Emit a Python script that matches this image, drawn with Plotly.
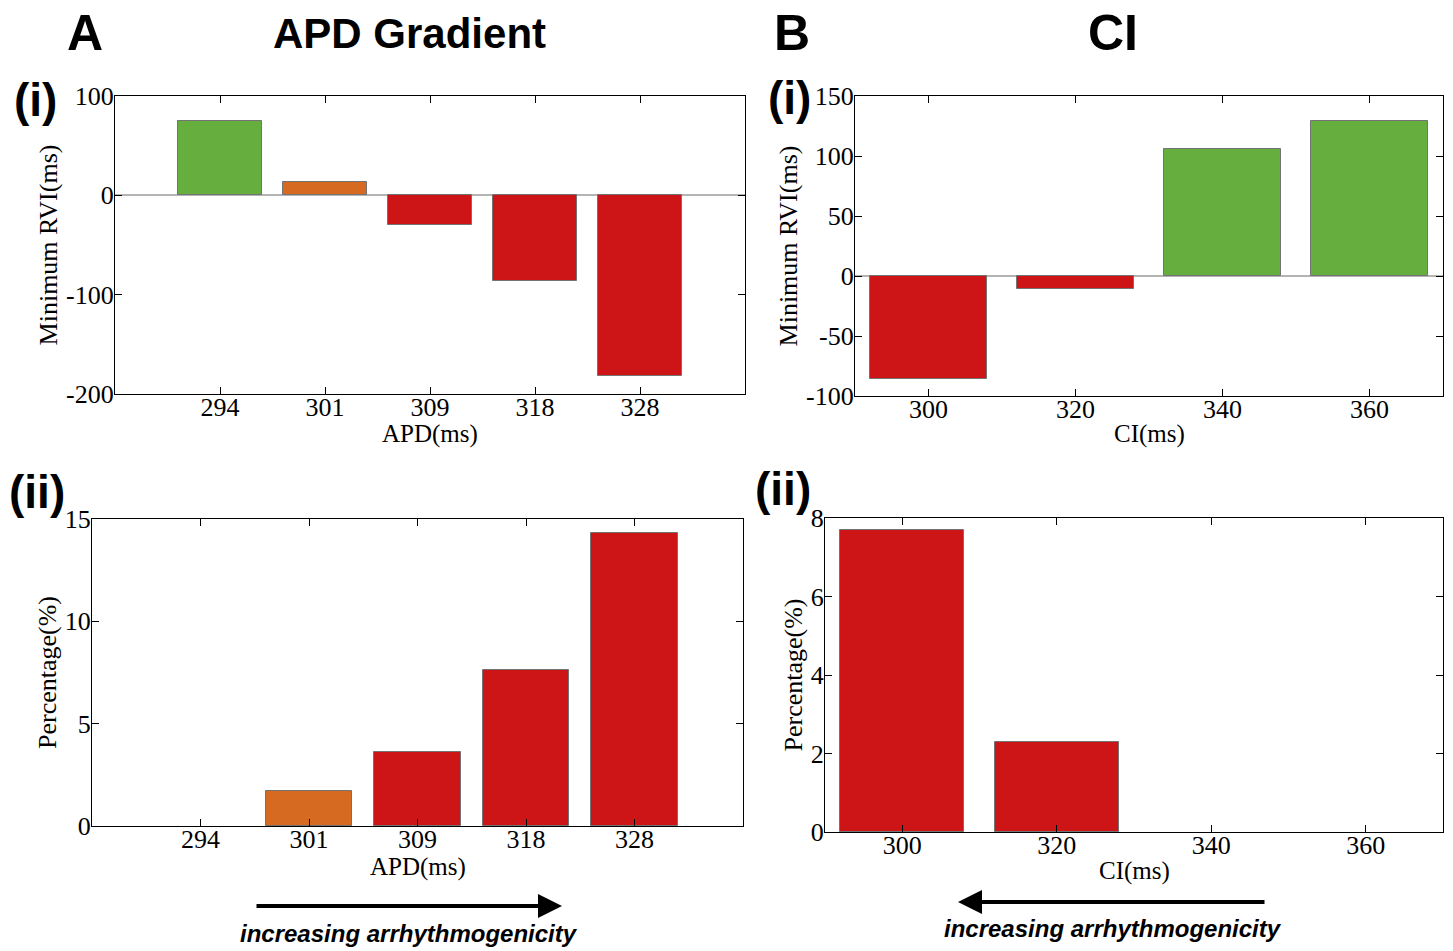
import plotly.graph_objects as go

W, H = 1453, 951

# ---- data ----
apd_labels = ["294", "301", "309", "318", "328"]
apd_min_rvi = [75, 13, -30, -86, -182]
apd_percentage = [0, 1.7, 3.6, 7.6, 14.3]
apd_colors = ["#66AF3E", "#D66A20", "#CD1417", "#CD1417", "#CD1417"]
apd_colors_pct = ["#CD1417", "#D66A20", "#CD1417", "#CD1417", "#CD1417"]

ci_values = [300, 320, 340, 360]
ci_min_rvi = [-86, -11, 106, 129]
ci_percentage = [7.7, 2.3, 0, 0]
ci_colors = ["#CD1417", "#CD1417", "#66AF3E", "#66AF3E"]
ci_colors_pct = ["#CD1417", "#CD1417", "#CD1417", "#CD1417"]

rvi_apd_ticks = [-200, -100, 0, 100]
rvi_ci_ticks = [-100, -50, 0, 50, 100, 150]
pct_apd_ticks = [0, 5, 10, 15]
pct_ci_ticks = [0, 2, 4, 6, 8]

# ---- layout helpers ----
def dom_x(x0, x1):
    return [x0 / W, x1 / W]

def dom_y(y0, y1):  # pixel top, pixel bottom
    return [1 - y1 / H, 1 - y0 / H]

def tick_text(vals):
    return [str(v) for v in vals]  # plain hyphen minus as in the original

def edge_widths(vals):
    return [0 if v == 0 else 1 for v in vals]

SERIF = "Liberation Serif, Times New Roman, serif"
BOLD = "Liberation Sans, Arial, sans-serif"
TICKF = dict(family=SERIF, size=26, color="black")
TITLEF = dict(family=SERIF, size=26, color="black")
XTITLEF = dict(family=SERIF, size=25, color="black")
EDGE_C = "rgb(115,115,115)"

fig = go.Figure()

fig.add_trace(go.Bar(x=apd_labels, y=apd_min_rvi,
                     marker=dict(color=apd_colors, line=dict(color=EDGE_C, width=edge_widths(apd_min_rvi))),
                     width=0.8, xaxis="x", yaxis="y", showlegend=False))
fig.add_trace(go.Bar(x=ci_values, y=ci_min_rvi,
                     marker=dict(color=ci_colors, line=dict(color=EDGE_C, width=edge_widths(ci_min_rvi))),
                     width=16, xaxis="x2", yaxis="y2", showlegend=False))
fig.add_trace(go.Bar(x=apd_labels, y=apd_percentage,
                     marker=dict(color=apd_colors_pct, line=dict(color=EDGE_C, width=edge_widths(apd_percentage))),
                     width=0.8, xaxis="x3", yaxis="y3", showlegend=False))
fig.add_trace(go.Bar(x=ci_values, y=ci_percentage,
                     marker=dict(color=ci_colors_pct, line=dict(color=EDGE_C, width=edge_widths(ci_percentage))),
                     width=16, xaxis="x4", yaxis="y4", showlegend=False))

common_ax = dict(showline=True, linecolor="black", linewidth=1.3, mirror="ticks",
                 ticks="inside", ticklen=7, tickcolor="black", tickwidth=1,
                 showgrid=False, tickfont=TICKF, automargin=False)
xcommon = dict(common_ax, ticklabelstandoff=-10)
ycommon = dict(common_ax, ticklabelstandoff=-5)

fig.update_layout(
    width=W, height=H,
    margin=dict(l=0, r=0, t=0, b=0, autoexpand=False),
    paper_bgcolor="white", plot_bgcolor="white",
    bargap=0,
    xaxis=dict(xcommon, domain=dom_x(115, 745), anchor="y", type="category",
               range=[-1, 5], zeroline=False),
    yaxis=dict(ycommon, domain=dom_y(96, 394), anchor="x", range=[-200, 100],
               tickvals=rvi_apd_ticks, ticktext=tick_text(rvi_apd_ticks),
               zeroline=True, zerolinecolor="#B4B4B4", zerolinewidth=1.5,
               title=dict(text="Minimum RVI(ms)", font=TITLEF, standoff=0)),
    xaxis2=dict(xcommon, domain=dom_x(855, 1443), anchor="y2", range=[290, 370],
                tickvals=ci_values, zeroline=False),
    yaxis2=dict(ycommon, domain=dom_y(96, 396), anchor="x2", range=[-100, 150],
                tickvals=rvi_ci_ticks, ticktext=tick_text(rvi_ci_ticks),
                zeroline=True, zerolinecolor="#B4B4B4", zerolinewidth=1.5,
                title=dict(text="Minimum RVI(ms)", font=TITLEF, standoff=0)),
    xaxis3=dict(xcommon, domain=dom_x(92, 743), anchor="y3", type="category",
                range=[-1, 5], zeroline=False),
    yaxis3=dict(ycommon, domain=dom_y(519, 826), anchor="x3", range=[0, 15],
                tickvals=pct_apd_ticks, ticktext=tick_text(pct_apd_ticks), zeroline=False,
                title=dict(text="Percentage(%)", font=TITLEF, standoff=0)),
    xaxis4=dict(xcommon, domain=dom_x(825, 1443), anchor="y4", range=[290, 370],
                tickvals=ci_values, zeroline=False),
    yaxis4=dict(ycommon, domain=dom_y(518, 832), anchor="x4", range=[0, 8],
                tickvals=pct_ci_ticks, ticktext=tick_text(pct_ci_ticks), zeroline=False,
                title=dict(text="Percentage(%)", font=TITLEF, standoff=0)),
)

# x-axis titles, placed just under each axis' tick labels
def xtitle(text, xaxis_name, py):
    fig.add_annotation(text=text, xref=f"{xaxis_name} domain", x=0.5,
                       yref="paper", y=1 - py / H, showarrow=False,
                       xanchor="center", yanchor="middle", font=XTITLEF)

xtitle("APD(ms)", "x", 434)
xtitle("CI(ms)", "x2", 434)
xtitle("APD(ms)", "x3", 867)
xtitle("CI(ms)", "x4", 871)

def label(text, px, py, size, italic=False):
    t = f"<b><i>{text}</i></b>" if italic else f"<b>{text}</b>"
    fig.add_annotation(text=t, x=px / W, y=1 - py / H, xref="paper", yref="paper",
                       showarrow=False, xanchor="center", yanchor="middle",
                       font=dict(family=BOLD, size=size, color="black"))

label("A", 85, 33, 50)
label("APD Gradient", 409, 33, 42)
label("B", 792, 33, 50)
label("CI", 1113, 33, 50)
label("(i)", 35, 100, 46)
label("(ii)", 37, 492, 46)
label("(i)", 790, 98, 46)
label("(ii)", 783, 489, 46)
label("increasing arrhythmogenicity", 409, 933, 24, italic=True)
label("increasing arrhythmogenicity", 1113, 928, 24, italic=True)

def arrow(x_tail, x_head, py):
    fig.add_annotation(text="", x=x_head / W, y=1 - py / H, xref="paper", yref="paper",
                       ax=x_tail - x_head, ay=0, showarrow=True, arrowhead=2,
                       arrowsize=1.2, arrowwidth=4, arrowcolor="black")

arrow(255, 562, 906)
arrow(1266, 958, 902)

fig.write_html("out.html")
